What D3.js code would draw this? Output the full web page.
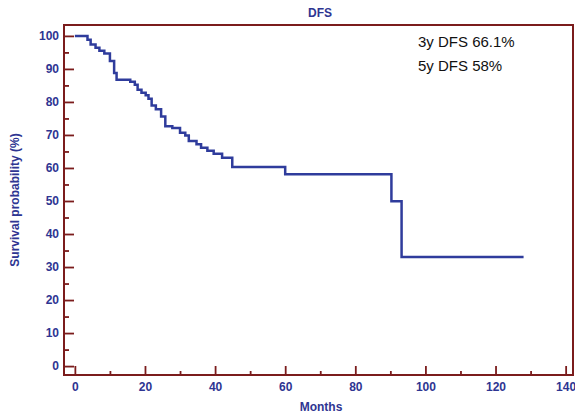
<!DOCTYPE html>
<html>
<head>
<meta charset="utf-8">
<script src="https://cdn.jsdelivr.net/npm/d3@7"></script>
<style>
  body { margin: 0; background: #fff; }
  svg { display: block; }
</style>
</head>
<body>
<div id="km"></div>
<script>
// Kaplan-Meier steps (month of event, survival % after the step)
var months   = [0, 3.6, 4.5, 5.9, 7.0, 8.4, 10.0, 11.2, 11.9, 15.8, 17.1, 17.9, 19.0, 20.2, 21.0, 21.9, 23.1, 24.6, 25.8, 27.8, 30.0, 31.5, 32.5, 34.7, 36.0, 37.8, 39.6, 42.0, 44.9, 60.0, 90.3, 93.2];
var survival = [100, 98.8, 97.4, 96.4, 95.5, 94.7, 92.4, 88.8, 86.7, 86.1, 85.2, 83.7, 82.8, 82.0, 81.0, 78.9, 77.8, 75.6, 72.6, 72.1, 70.7, 69.8, 68.2, 67.2, 66.1, 65.2, 64.3, 63.1, 60.3, 58.1, 49.9, 33.0];
var lastFollowUp = 128;

var xTicks = [0, 20, 40, 60, 80, 100, 120, 140];
var xMinor = [10, 30, 50, 70, 90, 110, 130];
var yTicks = [0, 10, 20, 30, 40, 50, 60, 70, 80, 90, 100];
var yMinor = [5, 15, 25, 35, 45, 55, 65, 75, 85, 95];
var notes = ["3y DFS 66.1%", "5y DFS 58%"];

var W = 575, H = 416;
var margin = {top: 25, right: 2, bottom: 41, left: 64};
var width = W - margin.left - margin.right,
    height = H - margin.top - margin.bottom;

var frameCol = "#7b1c1c", textCol = "#2e3592", lineCol = "#2f3c9c";

var svg = d3.select("#km").append("svg")
  .attr("width", W).attr("height", H);

var g = svg.append("g")
  .attr("transform", "translate(" + margin.left + "," + margin.top + ")");

var x = d3.scaleLinear().domain([-3.1, 142.1]).range([0, width]);
var y = d3.scaleLinear().domain([-2.7, 103.3]).range([height, 0]);

// frame
g.append("rect")
  .attr("x", 0).attr("y", 0)
  .attr("width", width).attr("height", height)
  .attr("fill", "none").attr("stroke", frameCol).attr("stroke-width", 2);

function styleAxis(sel) {
  sel.select(".domain").remove();
  sel.selectAll(".tick line").attr("stroke", frameCol).attr("stroke-width", 1.8);
  sel.selectAll(".tick text")
    .attr("fill", textCol)
    .style("font-family", "Liberation Sans, Arial, sans-serif")
    .style("font-weight", "bold")
    .style("font-size", "12px");
}

// y axis (ticks pointing inward)
g.append("g")
  .call(d3.axisLeft(y).tickValues(yTicks).tickSize(-10).tickPadding(5))
  .call(styleAxis);
g.append("g")
  .call(d3.axisLeft(y).tickValues(yMinor).tickSize(-5).tickFormat(""))
  .call(styleAxis);

// x axis
g.append("g")
  .attr("transform", "translate(0," + height + ")")
  .call(d3.axisBottom(x).tickValues(xTicks).tickSize(-9).tickPadding(7))
  .call(styleAxis);
g.append("g")
  .attr("transform", "translate(0," + height + ")")
  .call(d3.axisBottom(x).tickValues(xMinor).tickSize(-4).tickFormat(""))
  .call(styleAxis);

// survival curve
var pts = months.map(function(m, i) { return [m, survival[i]]; });
pts.push([lastFollowUp, survival[survival.length - 1]]);

var line = d3.line()
  .x(function(d) { return x(d[0]); })
  .y(function(d) { return y(d[1]); })
  .curve(d3.curveStepAfter);

g.append("path")
  .datum(pts)
  .attr("d", line)
  .attr("fill", "none")
  .attr("stroke", lineCol)
  .attr("stroke-width", 2.5);

// titles
svg.append("text")
  .attr("x", 320).attr("y", 17)
  .attr("text-anchor", "middle")
  .attr("fill", textCol)
  .style("font-family", "Liberation Sans, Arial, sans-serif")
  .style("font-weight", "bold").style("font-size", "12px")
  .text("DFS");

svg.append("text")
  .attr("x", 321).attr("y", 411)
  .attr("text-anchor", "middle")
  .attr("fill", textCol)
  .style("font-family", "Liberation Sans, Arial, sans-serif")
  .style("font-weight", "bold").style("font-size", "12px")
  .text("Months");

svg.append("text")
  .attr("transform", "translate(19,200)rotate(-90)")
  .attr("text-anchor", "middle")
  .attr("fill", textCol)
  .style("font-family", "Liberation Sans, Arial, sans-serif")
  .style("font-weight", "bold").style("font-size", "12px")
  .text("Survival probability (%)");

// annotations
svg.selectAll(".note")
  .data(notes).enter().append("text")
  .attr("class", "note")
  .attr("x", 418)
  .attr("y", function(d, i) { return 47 + i * 24; })
  .attr("fill", "#111")
  .style("font-family", "Liberation Sans, Arial, sans-serif")
  .style("font-size", "15px")
  .text(function(d) { return d; });
</script>
</body>
</html>
